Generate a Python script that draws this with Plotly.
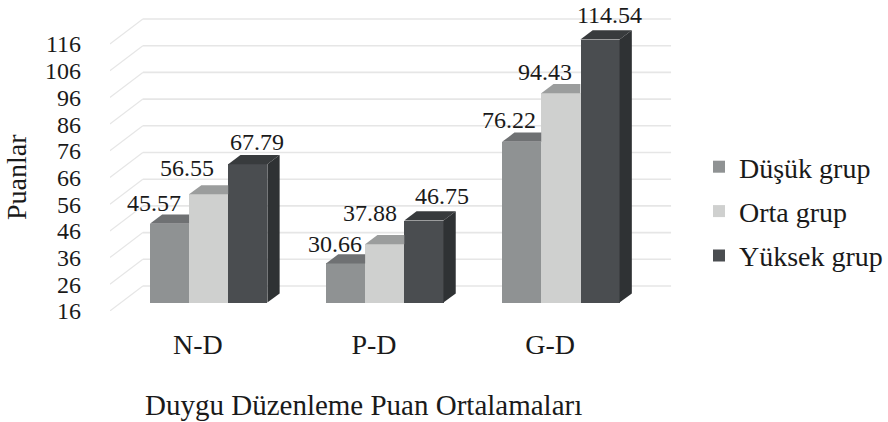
import plotly.graph_objects as go

categories = ["N-D", "P-D", "G-D"]
series_names = ["Düşük grup", "Orta grup", "Yüksek grup"]
low_group = [45.57, 30.66, 76.22]
mid_group = [56.55, 37.88, 94.43]
high_group = [67.79, 46.75, 114.54]
tick_values = [16, 26, 36, 46, 56, 66, 76, 86, 96, 106, 116]

all_series = [low_group, mid_group, high_group]

# --- style / geometry ---
W, H = 888, 422
X0, X1 = 110, 672   # plot area px
Y_BOTTOM = 311      # px of value 16 on front plane
PX_PER_UNIT = 2.67
PX_PER_CAT = 176.3
FLOOR = 16
y_top = FLOOR + Y_BOTTOM / PX_PER_UNIT

front_colors = ["#8f9293", "#cfd0cf", "#4a4d50"]
top_colors = ["#6f7173", "#9b9d9d", "#383b3d"]
side_color = "#2f3234"
grid_color = "#e6e6e6"
font_family = "Liberation Serif"
text_color = "#1a1a1a"


def ux(px):
    return px / PX_PER_CAT


def uy(px):
    return px / PX_PER_UNIT


wall_dx, wall_dy = ux(33), uy(25)
bar_dx, bar_dy = ux(12.3), uy(9.2)
bar_shift_x, bar_lift = ux(10.7), uy(8.4)
bar_w = ux(39.2)
# pixel offsets of each value label from the front-top centre of its bar
label_shift = [
    [(-15.5, 20.6), (-21.7, 26), (9, 22)],
    [(-11, 19.4), (-15, 31), (18.3, 24.5)],
    [(-13, 22), (-16, 21), (10, 25)],
]

fig = go.Figure()

for j, (name, vals) in enumerate(zip(series_names, all_series)):
    xs = [i + bar_shift_x + (j - 1) * bar_w for i in range(len(categories))]
    fig.add_trace(go.Bar(
        x=xs, y=[v - FLOOR for v in vals], base=FLOOR + bar_lift,
        width=bar_w, name=name, legendgroup=name,
        marker=dict(color=front_colors[j], line=dict(width=0)),
        hoverinfo="skip",
    ))

for j, vals in enumerate(all_series):
    for i, v in enumerate(vals):
        cx = i + bar_shift_x + (j - 1) * bar_w
        L, R = cx - bar_w / 2, cx + bar_w / 2
        yf = v + bar_lift
        yb = yf + bar_dy
        if j < 2:
            px = [L, R, R, L + bar_dx, L]
            py = [yf, yf, yb, yb, yf]
        else:
            px = [L, R, R + bar_dx, L + bar_dx, L]
            py = [yf, yf, yb, yb, yf]
        fig.add_trace(go.Scatter(
            x=px, y=py, mode="lines", fill="toself", fillcolor=top_colors[j],
            line=dict(width=0), showlegend=False, hoverinfo="skip", cliponaxis=False))
        if j == 2:
            base = FLOOR + bar_lift
            fig.add_trace(go.Scatter(
                x=[R, R + bar_dx, R + bar_dx, R, R],
                y=[base, base + bar_dy, yb, yf, base],
                mode="lines", fill="toself", fillcolor=side_color,
                line=dict(width=0), showlegend=False, hoverinfo="skip", cliponaxis=False))
        sx, sy = label_shift[i][j]
        fig.add_annotation(
            x=cx, y=yf, xref="x", yref="y", text=f"{v:.2f}", showarrow=False,
            xshift=sx, yshift=sy, xanchor="center", yanchor="middle",
            font=dict(family=font_family, size=24, color=text_color))

fig.add_annotation(
    x=364 / W, y=1 - 405 / H, xref="paper", yref="paper",
    showarrow=False, text="Duygu Düzenleme Puan Ortalamaları",
    xanchor="center", yanchor="middle",
    font=dict(family=font_family, size=29, color=text_color))
fig.add_annotation(
    x=17 / W, y=1 - 177 / H, xref="paper", yref="paper",
    showarrow=False, text="Puanlar", textangle=-90, xanchor="center", yanchor="middle",
    font=dict(family=font_family, size=28, color=text_color))

x_left = -0.5
x_right = x_left + (X1 - X0) / PX_PER_CAT
shapes = []
for t in tick_values:
    shapes.append(dict(type="line", xref="x", yref="y", layer="below",
                       x0=x_left, y0=t, x1=x_left + wall_dx, y1=t + wall_dy,
                       line=dict(color=grid_color, width=1.2)))
    shapes.append(dict(type="line", xref="x", yref="y", layer="below",
                       x0=x_left + wall_dx, y0=t + wall_dy, x1=x_right, y1=t + wall_dy,
                       line=dict(color=grid_color, width=1.6)))

fig.update_layout(
    width=W, height=H, autosize=False,
    margin=dict(l=0, r=0, t=0, b=0),
    paper_bgcolor="white", plot_bgcolor="rgba(0,0,0,0)",
    barmode="overlay", shapes=shapes, bargap=0,
    font=dict(family=font_family, color=text_color),
    legend=dict(
        x=700 / W, y=1 - 142 / H,
        xanchor="left", yanchor="top",
        font=dict(family=font_family, size=28, color=text_color),
        tracegroupgap=5, bgcolor="rgba(0,0,0,0)", traceorder="grouped",
    ),
    xaxis=dict(
        domain=[X0 / W, X1 / W], range=[x_left, x_right], automargin=False,
        tickmode="array", tickvals=list(range(len(categories))), ticktext=categories,
        tickfont=dict(family=font_family, size=28, color=text_color),
        ticks="outside", ticklen=8, tickcolor="rgba(0,0,0,0)", showgrid=False,
        zeroline=False, showline=False, anchor="y",
    ),
    yaxis=dict(
        domain=[1 - Y_BOTTOM / H, 1], range=[FLOOR, y_top], automargin=False,
        tickmode="array", tickvals=tick_values, ticktext=[str(t) for t in tick_values],
        tickfont=dict(family=font_family, size=24, color=text_color),
        ticks="outside", ticklen=23, tickcolor="rgba(0,0,0,0)", showgrid=False,
        zeroline=False, showline=False,
    ),
)

fig.write_html("out.html", config={"displayModeBar": False},
               post_script="document.body.style.margin = '0';")
